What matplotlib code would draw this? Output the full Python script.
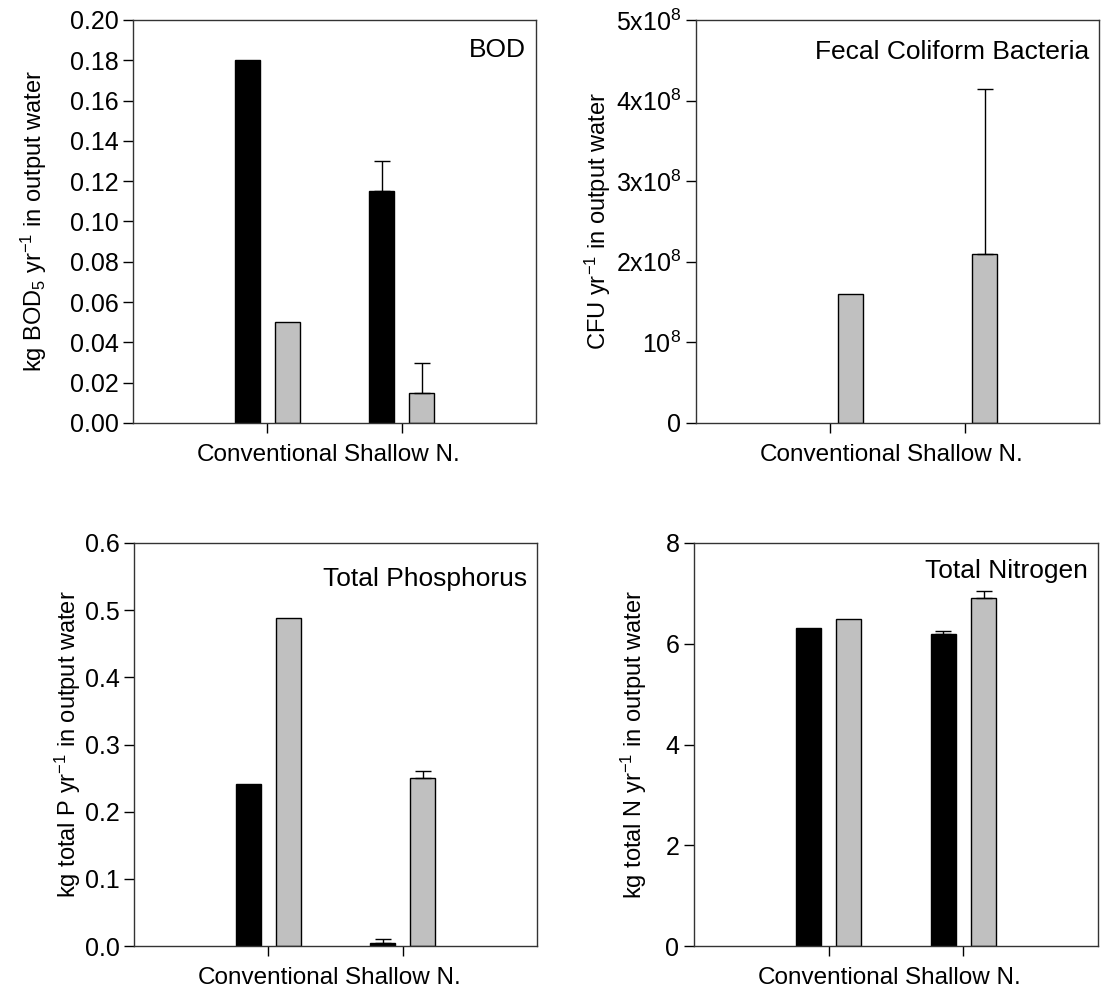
import numpy as np
import matplotlib
matplotlib.use("Agg")
import matplotlib.pyplot as plt

plt.rcParams['font.family'] = ['Liberation Sans', 'DejaVu Sans']
plt.rcParams['font.size'] = 17
plt.rcParams['mathtext.fontset'] = 'custom'
plt.rcParams['mathtext.rm'] = 'Liberation Sans'
plt.rcParams['mathtext.it'] = 'Liberation Sans'

groups = ["Conventional", "Shallow N."]

# black series / gray series, upper error values (0 = no bar)
bod_black = [0.18, 0.115]
bod_black_err = [0.0, 0.015]
bod_gray = [0.05, 0.015]
bod_gray_err = [0.0, 0.015]

fc_black = [0.0, 0.0]
fc_black_err = [0.0, 0.0]
fc_gray = [1.6e8, 2.1e8]
fc_gray_err = [0.0, 2.05e8]

tp_black = [0.241, 0.005]
tp_black_err = [0.0, 0.005]
tp_gray = [0.489, 0.25]
tp_gray_err = [0.0, 0.01]

tn_black = [6.32, 6.2]
tn_black_err = [0.0, 0.05]
tn_gray = [6.5, 6.9]
tn_gray_err = [0.0, 0.15]

fc_ticks = [0, 1e8, 2e8, 3e8, 4e8, 5e8]
fc_ticklabels = ["0", r"10$^{8}$", r"2x10$^{8}$", r"3x10$^{8}$", r"4x10$^{8}$", r"5x10$^{8}$"]

fig = plt.figure(figsize=(11.02, 9.89), dpi=100)
W, H = 1102, 989


def make_ax(x0, y0, x1, y1):
    return fig.add_axes([x0 / W, 1 - y1 / H, (x1 - x0) / W, (y1 - y0) / H])


def draw(ax, black, black_err, gray, gray_err, ylim, yticks, ylabel, title,
         fmt=None, labels=None, ty=0.93, lpad=6):
    x = np.arange(1, len(groups) + 1)
    w = 0.185
    for vals, errs, col, off in [(black, black_err, "black", -0.15), (gray, gray_err, "#c0c0c0", 0.15)]:
        vals = np.asarray(vals)
        keep = vals > 0
        ax.bar((x + off)[keep], vals[keep], width=w, color=col, edgecolor="black", linewidth=1, zorder=2)
        for xi, v, e in zip(x + off, vals, errs):
            if e > 0:
                ax.errorbar(xi, v, yerr=[[0], [e]], fmt="none", ecolor="black",
                            elinewidth=1, capsize=6, capthick=1, zorder=3)
    ax.set_xlim(0, 3)
    ax.set_xticks(x)
    ax.set_xticklabels(groups, fontsize=17.5)
    ax.set_ylim(*ylim)
    ax.set_yticks(yticks)
    if labels is not None:
        ax.set_yticklabels(labels, fontsize=18)
    elif fmt is not None:
        ax.set_yticklabels([fmt.format(t) for t in yticks], fontsize=18)
    ax.set_ylabel(ylabel, fontsize=17, labelpad=lpad)
    ax.tick_params(direction="out", length=7, width=1)
    ax.tick_params(axis="x", pad=8)
    for s in ax.spines.values():
        s.set_linewidth(1)
        s.set_color("#333333")
    ax.text(0.975, ty, title, transform=ax.transAxes, ha="right", va="center", fontsize=19)


ax1 = make_ax(133, 20, 536, 423)
draw(ax1, bod_black, bod_black_err, bod_gray, bod_gray_err, (0, 0.2),
     np.arange(0, 0.201, 0.02), r"kg BOD$_{5}$ yr$^{-1}$ in output water", "BOD",
     fmt="{:.2f}", ty=0.925, lpad=15)

ax2 = make_ax(696, 20, 1099, 423)
draw(ax2, fc_black, fc_black_err, fc_gray, fc_gray_err, (0, 5e8),
     fc_ticks, r"CFU yr$^{-1}$ in output water", "Fecal Coliform Bacteria",
     labels=fc_ticklabels, ty=0.92, lpad=2)

ax3 = make_ax(134, 543, 537, 946)
draw(ax3, tp_black, tp_black_err, tp_gray, tp_gray_err, (0, 0.6),
     np.arange(0, 0.601, 0.1), r"kg total P yr$^{-1}$ in output water", "Total Phosphorus",
     fmt="{:.1f}", ty=0.91, lpad=1)

ax4 = make_ax(694, 543, 1098, 946)
draw(ax4, tn_black, tn_black_err, tn_gray, tn_gray_err, (0, 8),
     [0, 2, 4, 6, 8], r"kg total N yr$^{-1}$ in output water", "Total Nitrogen",
     fmt="{:.0f}", ty=0.93, lpad=12)

fig.savefig("out.png", dpi=100)
